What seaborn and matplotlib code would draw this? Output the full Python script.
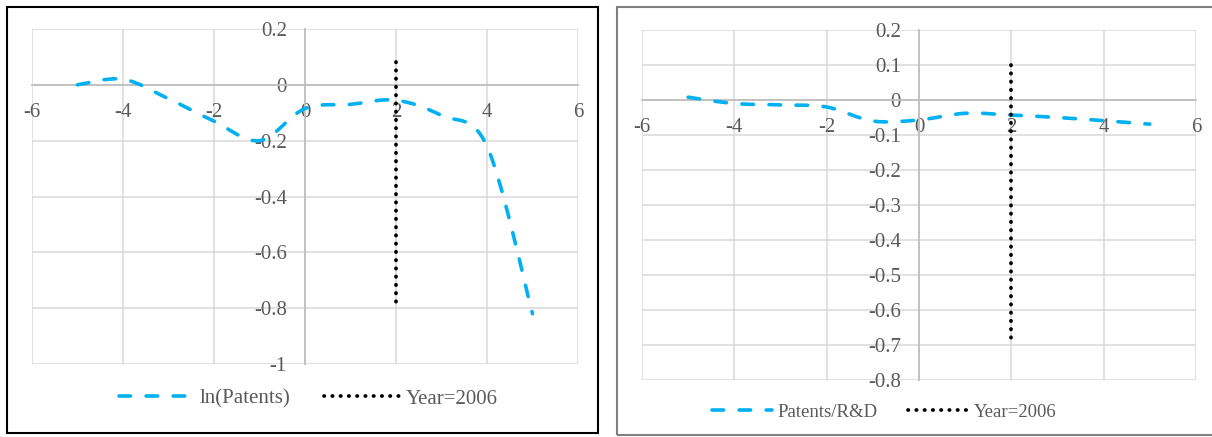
import numpy as np
import matplotlib
matplotlib.use("Agg")
import matplotlib.pyplot as plt
import seaborn as sns
from matplotlib.path import Path
from matplotlib.patches import PathPatch, Rectangle
from matplotlib.lines import Line2D

# event time (years relative to treatment)
years = [-5, -4, -3, -2, -1, 0, 1, 2, 3, 4, 5]
ln_patents = [0.0, 0.02, -0.05, -0.13, -0.2, -0.085, -0.07, -0.055, -0.11, -0.22, -0.82]
patents_rd = [0.008, -0.01, -0.014, -0.02, -0.06, -0.057, -0.038, -0.043, -0.05, -0.059, -0.069]

# vertical marker for Year=2006 (x, y-start, y-end)
marker_x = 2
left_marker = [0.08, -0.78]
right_marker = [0.10, -0.70]

xticks = [-6, -4, -2, 0, 2, 4, 6]
left_yticks = [0.2, 0, -0.2, -0.4, -0.6, -0.8, -1]
right_yticks = [0.2, 0.1, 0, -0.1, -0.2, -0.3, -0.4, -0.5, -0.6, -0.7, -0.8]

BLUE = "#00b0f0"
TXT = "#595959"

sns.set_theme(style="white")
plt.rcParams["font.family"] = ["Liberation Serif", "DejaVu Serif"]
plt.rcParams["axes.unicode_minus"] = False


def smooth_path(xs, ys):
    # Excel-like smoothed line: bezier segments through the data points
    pts = np.column_stack([xs, ys]).astype(float)
    n = len(pts)
    verts = [pts[0]]
    codes = [Path.MOVETO]
    for i in range(n - 1):
        p0 = pts[max(i - 1, 0)]
        p1 = pts[i]
        p2 = pts[i + 1]
        p3 = pts[min(i + 2, n - 1)]
        verts += [p1 + (p2 - p0) / 6, p2 - (p3 - p1) / 6, p2]
        codes += [Path.CURVE4] * 3
    return Path(verts, codes)


DASH = (0, (3.2, 4.3))
DOT = (0, (0.1, 2.1))
DOT_LW = 2.7


def draw_panel(ax, yvals, marker, yticks):
    patch = PathPatch(smooth_path(years, yvals), fill=False, edgecolor=BLUE,
                      lw=2.6, linestyle=DASH, capstyle="round", zorder=5)
    ax.add_patch(patch)
    sns.lineplot(x=[marker_x, marker_x], y=marker, sort=False, estimator=None,
                 color="black", lw=DOT_LW, linestyle=DOT, dash_capstyle="round",
                 ax=ax, zorder=6)

    ax.set_xlim(-6, 6)
    ax.set_ylim(yticks[-1], yticks[0])
    ax.set_xticks(xticks)
    ax.set_xticklabels([f"{v:g}" for v in xticks])
    ax.set_yticks(yticks)
    ax.set_yticklabels([f"{v:g}" for v in yticks])
    ax.grid(True, color="#d9d9d9", lw=1.1)
    ax.set_axisbelow(True)

    for side in ["top", "right"]:
        ax.spines[side].set_visible(False)
    ax.spines["left"].set_position(("data", 0))
    ax.spines["bottom"].set_position(("data", 0))
    for side in ["left", "bottom"]:
        ax.spines[side].set_color("#bfbfbf")
        ax.spines[side].set_linewidth(1.3)
        ax.spines[side].set_zorder(1)
    ax.tick_params(axis="x", length=0, pad=13, labelsize=15, labelcolor=TXT)
    ax.tick_params(axis="y", length=0, pad=13, labelsize=15, labelcolor=TXT)
    ax.set_xlabel("")
    ax.set_ylabel("")


fig = plt.figure(figsize=(12.12, 4.37), dpi=100)
W, H = 1212, 437

ax1 = fig.add_axes([32 / W, 1 - 364 / H, 546 / W, 335 / H])
ax2 = fig.add_axes([642 / W, 1 - 380 / H, 554 / W, 350 / H])

draw_panel(ax1, ln_patents, left_marker, left_yticks)
draw_panel(ax2, patents_rd, right_marker, right_yticks)

# outer chart frames
fig.add_artist(Rectangle((7 / W, 1 - 433 / H), 591 / W, 426 / H, fill=False,
                         edgecolor="black", lw=1.5, transform=fig.transFigure))
fig.add_artist(Rectangle((617 / W, 1 - 435 / H), 610 / W, 428 / H, fill=False,
                         edgecolor="#808080", lw=1.5, transform=fig.transFigure))


def legend_handles(label):
    h1 = Line2D([], [], color=BLUE, lw=2.6, linestyle=DASH, dash_capstyle="round")
    h2 = Line2D([], [], color="black", lw=DOT_LW, linestyle=DOT, dash_capstyle="round")
    return [h1, h2], [label, "Year=2006"]


for label, pos, hlen, fs in [("ln(Patents)", (308 / W, 1 - 399 / H), 3.6, 15),
                             ("Patents/R&D", (884 / W, 1 - 412 / H), 3.2, 13.5)]:
    hs, ls = legend_handles(label)
    fig.legend(hs, ls, loc="center", bbox_to_anchor=pos, ncol=2,
               frameon=False, fontsize=fs, handlelength=hlen,
               handletextpad=0.3, columnspacing=1.6, labelcolor=TXT)

fig.savefig("out.png", dpi=100, facecolor="white")
